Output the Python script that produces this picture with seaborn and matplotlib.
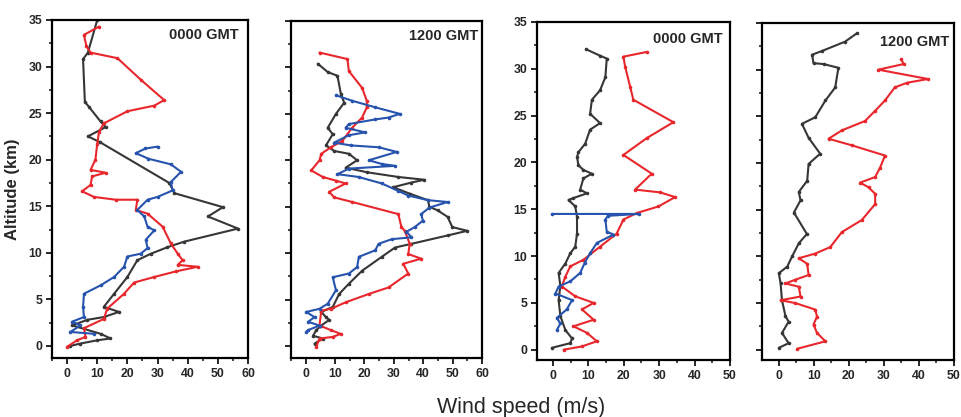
import numpy as np
import pandas as pd
import matplotlib
matplotlib.use("Agg")
import matplotlib.pyplot as plt
from matplotlib.ticker import MultipleLocator
import seaborn as sns

# ---------------- data (wind speed m/s, altitude km) ----------------
# Panel 1 : 0000 GMT
p1_black_speed = [10, 6.9, 5.3, 5.9, 7.2, 11.1, 12.8, 6.9, 10.8, 33.9, 35.6, 51.7, 46.7, 56.7, 38.9, 33.3, 27.8,
                  23.3, 20, 15.6, 12.2, 17.2, 12.2, 6.7, 1.7, 11.1, 14.4, 10, 4.4, 1.1]
p1_black_alt = [35, 31.5, 30.8, 26.2, 25.7, 24.1, 23.5, 22.5, 21.9, 17.5, 16.4, 14.9, 13.9, 12.6, 11.2, 10.6, 9.9,
                9.2, 7.4, 5.6, 4.2, 3.65, 3.1, 2.8, 2.2, 1.3, 0.8, 0.6, 0.25, 0]
p1_red_speed = [10.6, 5.6, 6.4, 7.8, 16.7, 24.4, 32.2, 28.9, 20, 12.2, 10.6, 10, 9.4, 7.8, 12.8, 8.3, 7.8, 5, 8.9,
                16.1, 23.3, 22.8, 26.7, 31.7, 34.4, 36.7, 38.3, 36.7, 43.3, 36.1, 28.9, 22.2, 18.9, 13.3, 12.2,
                5.6, 6.1, 3.3, 0]
p1_red_alt = [34.3, 33.4, 32.2, 31.5, 30.9, 28.6, 26.4, 25.8, 25.2, 23.9, 23, 21.7, 20, 18.9, 18.6, 18.2, 17.3,
              16.6, 16, 15.7, 15.7, 14.6, 14.2, 12.8, 11.0, 9.9, 9.2, 8.7, 8.5, 8.0, 7.4, 6.8, 5.6, 4.0, 2.9,
              1.9, 0.97, 0.6, -0.1]
p1_blue_speed = [30, 26, 22.8, 27, 34.4, 37.8, 34.4, 35, 30, 26.7, 23.3, 25.6, 26.7, 28.9, 26.1, 26.7, 24.4, 20,
                 18.9, 15.6, 11.1, 5.6, 5.3, 5.6, 1.7, 4.4, 1.1, 8.9]
p1_blue_alt = [21.4, 21.2, 20.7, 20.1, 19.5, 18.7, 17.6, 16.7, 16.0, 15.7, 14.6, 13.9, 12.8, 12.4, 11.4, 10.5,
               9.9, 9.6, 8.5, 7.4, 6.5, 5.6, 4.2, 3.1, 2.6, 2.2, 1.5, 1.3]

# Panel 2 : 1200 GMT
p2_black_speed = [4.1, 7.5, 10.8, 12, 13.1, 10.3, 7.5, 9.2, 6.9, 9.7, 14.7, 17.5, 13.6, 21, 31.5, 40.4, 36, 29.8,
                  35.4, 41.6, 42.1, 44.9, 48.3, 49.9, 55, 48.3, 36, 30.4, 25.9, 19.2, 14.7, 11.4, 9.2, 5.3, 6.9,
                  8.0, 5.3, 3.6, 2.5, 5.8, 3.0]
p2_black_alt = [30.4, 29.5, 29.1, 27.1, 26.2, 25, 23.5, 22.8, 21.6, 21, 20.7, 20, 19.2, 18.7, 18.2, 17.9, 17.6,
                17.1, 16.4, 15.7, 15, 14.6, 13.9, 12.8, 12.4, 11.9, 11.0, 10.6, 9.6, 8.1, 6.7, 5.6, 4.2, 3.66, 3.1,
                2.8, 2.2, 1.7, 1.1, 0.8, 0.25]
p2_red_speed = [4.7, 14.2, 14.7, 19.2, 20.8, 20.8, 19.2, 15.8, 12.5, 8.6, 5.3, 4.7, 1.9, 5.8, 10.3, 13.6, 8.0, 9.7,
                15.9, 31.5, 32.6, 33.7, 35.4, 34.9, 39.3, 33.2, 34.9, 28.2, 21.5, 13.6, 8.6, 5.3, 4.7, 8.6, 11.9,
                9.2, 4.7, 3.6]
p2_red_alt = [31.6, 30.9, 29.6, 27.8, 26.4, 25.7, 24.6, 23.5, 22.1, 21.4, 20.7, 20, 18.9, 18.2, 17.8, 17.5, 16.6,
              16, 15.5, 14.2, 12.8, 12.4, 11.0, 9.9, 9.4, 8.85, 7.8, 6.3, 5.6, 4.7, 4.0, 3.8, 2.2, 1.7, 1.3, 0.97,
              0.8, -0.1]
p2_blue_speed = [10.3, 15.9, 23.7, 32, 28.2, 23.7, 14.7, 13.6, 20.3, 14.7, 9.7, 15.3, 24.8, 31, 21.5, 25.9, 30.4,
                 14.7, 10.8, 18, 25.9, 31.5, 34.9, 41.6, 48.3, 42.1, 39.3, 39.9, 37.1, 34.3, 36, 29.3, 24.8, 23.7,
                 18.1, 17.5, 14.7, 9.2, 10.3, 7.5, 4.7, 0.2, 3.0, 0.8, 4.7, 0.8, 0.2]
p2_blue_alt = [27, 26.4, 25.7, 25, 24.6, 24.4, 23.9, 23.5, 23.0, 22.7, 21.9, 21.6, 21.4, 20.9, 20, 19.6, 19.4,
               19.1, 18.5, 18.2, 17.5, 16.7, 16.2, 15.7, 15.5, 14.9, 14.2, 13.5, 12.8, 12.3, 11.7, 11.5, 11.0,
               10.3, 9.6, 8.5, 7.8, 7.4, 6.0, 4.55, 4.0, 3.66, 3.1, 2.6, 2.2, 1.7, 1.5]

# Panel 3 : 0000 GMT
p3_black_speed = [9.3, 13.3, 15.2, 14.8, 13.3, 11, 10.5, 13.3, 10.5, 9.1, 7.2, 6.8, 7.2, 8.6, 11, 8.6, 7.7, 9.6,
                  5.8, 4.4, 6.3, 6.8, 6.8, 6.3, 4.9, 3.5, 1.6, 2.1, 1.6, 2.1, 3.5, 5.4, 4.9, -0.3]
p3_black_alt = [32.1, 31.4, 31.1, 29.1, 27.7, 26.7, 25.2, 24.2, 23.5, 22, 21.1, 20.6, 19.7, 19.2, 18.8, 18.3,
                17.1, 16.7, 16.2, 16.0, 15.3, 14.2, 12.4, 11.0, 10.3, 9.2, 8.2, 6.8, 5.3, 3.6, 2.1, 1.2, 0.7, 0.2]
p3_red_speed = [26.5, 19.9, 20.4, 21.8, 22.7, 34, 26.5, 19.9, 27.9, 23.2, 30.3, 34.5, 29.8, 23.7, 19.9, 18.0,
                13.3, 8.6, 4.9, 3.5, 2.5, 6.3, 11.5, 8.2, 11.5, 5.8, 9.6, 12.4, 8.2, 3]
p3_red_alt = [31.8, 31.3, 30.2, 28.1, 26.7, 24.3, 22.6, 20.8, 18.8, 17.1, 16.8, 16.3, 15.3, 14.6, 13.9, 12.4,
              11.0, 9.6, 8.9, 7.8, 6.75, 5.7, 5.0, 4.3, 3.2, 2.5, 1.8, 0.9, 0.35, 0]
p3_blue_speed = [-0.3, 24.2, 15.5, 14.8, 15.2, 17.1, 12.4, 10.5, 9.0, 7.7, 4.9, 1.6, 0.7, 5.4, 3.9, 1.1, 2.1, 1.1]
p3_blue_alt = [14.5, 14.5, 14.3, 13.9, 12.6, 12.3, 11.4, 10.3, 9.3, 8.2, 7.3, 6.75, 6.0, 5.3, 4.3, 3.4, 2.8, 2.1]

# Panel 4 : 1200 GMT
p4_black_speed = [22.3, 18.9, 12.3, 9.5, 9.9, 12.8, 17.0, 16.1, 13.3, 10.4, 6.6, 8.5, 11.8, 8.5, 8.1, 5.7, 6.2,
                  4.3, 8.0, 5.7, 3.8, 2.4, 0, 0.5, 0.9, 1.9, 2.8, 0.9, 2.8, 0]
p4_black_alt = [33.9, 33.0, 32.0, 31.6, 30.7, 30.6, 30.2, 28.1, 26.7, 24.9, 24.2, 22.7, 21.0, 19.9, 18.1, 16.9,
                16.0, 14.7, 12.4, 11.4, 10.0, 8.9, 8.2, 7.1, 5.3, 3.6, 3.0, 1.8, 0.7, 0.2]
p4_red_speed = [35.0, 35.6, 28.4, 42.6, 36.6, 33.1, 30.3, 27.5, 24.6, 18, 14.2, 20.8, 30.3, 28.9, 27.5, 23.2,
                25.6, 27.5, 27.5, 23.7, 18, 14.7, 10.4, 5.7, 8.1, 8.5, 4.7, 1.9, 5.7, 6.2, 0.5, 4.7, 10.4, 10.9,
                9.9, 10.9, 13.3, 5.2]
p4_red_alt = [31.1, 30.6, 30.0, 29.0, 28.6, 28.1, 26.7, 25.6, 24.5, 23.5, 22.6, 21.9, 20.8, 19.5, 18.5, 17.9,
              17.4, 16.7, 15.6, 13.9, 12.6, 11.0, 10.3, 9.8, 9.2, 8.0, 7.5, 7.1, 6.75, 5.7, 5.3, 5.0, 4.3, 3.55,
              2.7, 1.8, 0.9, 0.1]

panel_titles = ["0000 GMT", "1200 GMT", "0000 GMT", "1200 GMT"]
x_label = "Wind speed (m/s)"
y_label = "Altitude (km)"

BLACK = "#363636"
RED = "#e8272d"
BLUE = "#2653ad"

panels = [
    [(p1_black_speed, p1_black_alt, BLACK), (p1_red_speed, p1_red_alt, RED), (p1_blue_speed, p1_blue_alt, BLUE)],
    [(p2_black_speed, p2_black_alt, BLACK), (p2_red_speed, p2_red_alt, RED), (p2_blue_speed, p2_blue_alt, BLUE)],
    [(p3_black_speed, p3_black_alt, BLACK), (p3_red_speed, p3_red_alt, RED), (p3_blue_speed, p3_blue_alt, BLUE)],
    [(p4_black_speed, p4_black_alt, BLACK), (p4_red_speed, p4_red_alt, RED)],
]

# ---------------- figure ----------------
sns.set_style("ticks")
plt.rcParams['font.family'] = ['Liberation Sans', 'DejaVu Sans']

fig = plt.figure(figsize=(9.61, 4.17), dpi=100)
W, H = 961, 417
# pixel boxes: left, right, top, bottom
boxes = [(52, 248, 20, 358), (291, 482, 21, 358), (537, 730, 22, 360), (762, 954, 23, 360)]
ylims = [(-1.3, 35), (-1.3, 35), (-1.1, 35), (-1.1, 35)]
xlims = [(-5, 60), (-5, 60), (-4.5, 50), (-4.8, 50)]
title_pos = [(0.95, 0.955), (0.98, 0.955), (0.96, 0.95), (0.975, 0.945)]

for i, (l, r, t, b) in enumerate(boxes):
    ax = fig.add_axes([l / W, 1 - b / H, (r - l) / W, (b - t) / H])
    for xs, ys, col in panels[i]:
        df = pd.DataFrame({"speed": xs, "alt": ys})
        sns.lineplot(data=df, x="speed", y="alt", sort=False, estimator=None, color=col,
                     lw=1.5, marker="o", markersize=2.6, markeredgewidth=0, ax=ax)
    ax.set_xlim(*xlims[i])
    ax.set_ylim(*ylims[i])
    ax.xaxis.set_major_locator(MultipleLocator(10))
    ax.xaxis.set_minor_locator(MultipleLocator(5))
    ax.yaxis.set_major_locator(MultipleLocator(5))
    ax.yaxis.set_minor_locator(MultipleLocator(2.5))
    ax.tick_params(which="major", direction="out", length=4, width=1.4, labelsize=8.8, pad=3)
    ax.tick_params(which="minor", direction="out", length=2.5, width=1.2)
    for lab in ax.get_xticklabels() + ax.get_yticklabels():
        lab.set_fontweight("bold")
    if i in (1, 3):
        ax.tick_params(axis="y", which="both", labelleft=False)
    ax.set_xlabel("")
    ax.set_ylabel("")
    for sp in ax.spines.values():
        sp.set_linewidth(1.6)
        sp.set_color("black")
    ax.text(title_pos[i][0], title_pos[i][1], panel_titles[i], transform=ax.transAxes,
            ha="right", va="center", fontsize=10.5, fontweight="bold")
    if i == 0:
        ax.set_ylabel(y_label, fontsize=12, fontweight="bold", labelpad=6)

fig.text(521 / W, 1 - 407 / H, x_label, ha="center", va="center", fontsize=15.5)

fig.savefig("out.png", dpi=100, facecolor="white")
